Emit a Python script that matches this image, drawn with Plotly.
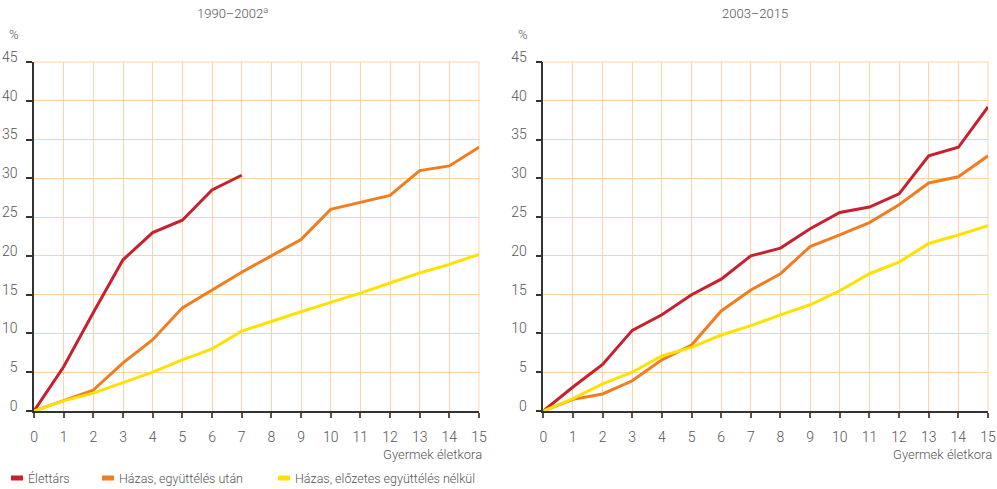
import plotly.graph_objects as go

ages = list(range(16))
series_names = ["Élettárs", "Házas, együttélés után", "Házas, előzetes együttélés nélkül"]
colors = ["#c8202e", "#f07d22", "#ffe100"]

# 1990–2002
p1_elettars = [0, 5.7, 12.7, 19.5, 23.0, 24.6, 28.5, 30.4]
p1_hazas_utan = [0, 1.3, 2.7, 6.2, 9.2, 13.3, 15.6, 17.9, 20.0, 22.1, 26.0, 26.9, 27.8, 31.0, 31.6, 34.0]
p1_hazas_nelkul = [0, 1.3, 2.3, 3.6, 5.0, 6.6, 8.0, 10.3, 11.6, 12.8, 14.0, 15.2, 16.5, 17.8, 18.9, 20.2]

# 2003–2015
p2_elettars = [0, 3.1, 6.0, 10.4, 12.4, 15.0, 17.0, 20.0, 21.0, 23.5, 25.6, 26.3, 28.0, 32.9, 34.0, 39.2]
p2_hazas_utan = [0, 1.5, 2.2, 3.9, 6.6, 8.5, 12.9, 15.6, 17.7, 21.2, 22.7, 24.3, 26.6, 29.4, 30.2, 32.9]
p2_hazas_nelkul = [0, 1.6, 3.5, 5.0, 7.1, 8.2, 9.8, 11.0, 12.4, 13.7, 15.5, 17.7, 19.2, 21.6, 22.7, 23.9]

panel_titles = ["1990–2002<sup>a</sup>", "2003–2015"]
x_title = "Gyermek életkora"
y_unit = "%"

FONT = "Roboto"
TXT = "#555555"
GRID = "#fdd3a6"


def f(size):
    return dict(family=FONT, size=size, color=TXT, weight=300)


fig = go.Figure()

panels = [
    ("x", "y", [p1_elettars, p1_hazas_utan, p1_hazas_nelkul]),
    ("x2", "y2", [p2_elettars, p2_hazas_utan, p2_hazas_nelkul]),
]
for xa, ya, data in panels:
    for name, col, vals in zip(series_names, colors, data):
        fig.add_trace(go.Scatter(
            x=ages[:len(vals)], y=vals, mode="lines", name=name,
            line=dict(color=col, width=3), xaxis=xa, yaxis=ya, showlegend=False,
        ))

W, H = 997, 489
dom_x = [[34 / W, 479 / W], [543.3 / W, 988 / W]]
dom_y = [1 - 411 / H, 1 - 62 / H]

axis_common_x = dict(
    range=[0, 15], tickmode="linear", tick0=0, dtick=1,
    showgrid=True, gridcolor=GRID, gridwidth=1,
    showline=True, linecolor="#333333", linewidth=1.5,
    ticks="outside", ticklen=5, tickcolor="#555555", tickwidth=1.5,
    tickfont=f(14), zeroline=False,
    ticklabelstandoff=7,
    automargin=False, fixedrange=True,
)
axis_common_y = dict(
    range=[0, 45], tickmode="linear", tick0=0, dtick=5,
    showgrid=True, gridcolor=GRID, gridwidth=1,
    showline=True, linecolor="#333333", linewidth=1.5,
    ticks="outside", ticklen=6, tickcolor="#333333", tickwidth=1.5,
    tickfont=f(14), zeroline=False,
    ticklabelstandoff=6, ticklabelshift=-5,
    automargin=False, fixedrange=True,
)

fig.update_layout(
    width=W, height=H,
    margin=dict(l=0, r=0, t=0, b=0, autoexpand=False),
    paper_bgcolor="white", plot_bgcolor="white",
    xaxis=dict(domain=dom_x[0], anchor="y", **axis_common_x),
    yaxis=dict(domain=dom_y, anchor="x", **axis_common_y),
    xaxis2=dict(domain=dom_x[1], anchor="y2", **axis_common_x),
    yaxis2=dict(domain=dom_y, anchor="x2", **axis_common_y),
    font=dict(family=FONT, color=TXT),
)

# top and right grid borders
for xa, ya in [("x", "y"), ("x2", "y2")]:
    fig.add_shape(type="line", xref=xa + " domain", yref=ya + " domain",
                  x0=0, x1=1, y0=1, y1=1, line=dict(color=GRID, width=1), layer="below")
    fig.add_shape(type="line", xref=xa + " domain", yref=ya + " domain",
                  x0=1, x1=1, y0=0, y1=1, line=dict(color=GRID, width=1), layer="below")

ann = []
# panel titles
ann.append(dict(text=panel_titles[0], x=232 / W, y=1 - 13 / H, xref="paper", yref="paper",
                showarrow=False, font=f(13), xanchor="center", yanchor="middle"))
ann.append(dict(text=panel_titles[1], x=755 / W, y=1 - 13 / H, xref="paper", yref="paper",
                showarrow=False, font=f(13), xanchor="center", yanchor="middle"))
# % labels
for px in [13.5, 523]:
    ann.append(dict(text=y_unit, x=px / W, y=1 - 34 / H, xref="paper", yref="paper",
                    showarrow=False, font=f(13), xanchor="center", yanchor="middle"))
# x titles
for px in [484, 994]:
    ann.append(dict(text=x_title, x=px / W, y=1 - 454 / H, xref="paper", yref="paper",
                    showarrow=False, font=f(13), xanchor="right", yanchor="middle"))

# legend
leg_x = [11, 102, 278]
ly = 478
for lx, name, col in zip(leg_x, series_names, colors):
    fig.add_shape(type="rect", xref="paper", yref="paper",
                  x0=lx / W, x1=(lx + 12) / W, y0=1 - (ly + 2.5) / H, y1=1 - (ly - 2.5) / H,
                  fillcolor=col, line=dict(width=0))
    ann.append(dict(text=name, x=(lx + 15) / W, y=1 - ly / H, xref="paper", yref="paper",
                    showarrow=False, font=f(12.5), xanchor="left", yanchor="middle"))

fig.update_layout(annotations=ann)

fig.write_html(
    "out.html",
    config={"displayModeBar": False},
    post_script="document.body.style.margin='0';document.body.style.overflow='hidden';",
)
